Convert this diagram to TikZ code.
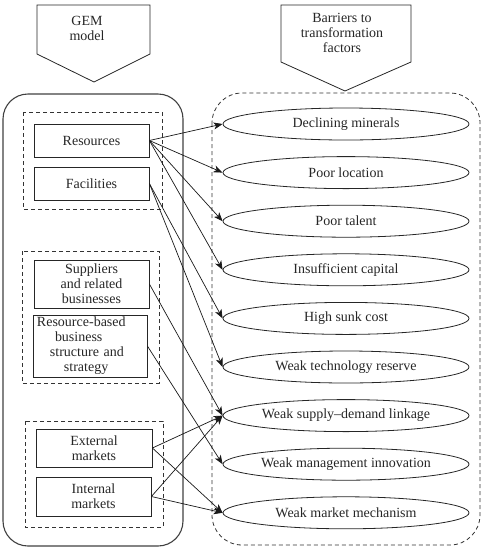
\documentclass[tikz,border=0pt]{standalone}
\usepackage{fontspec}
\setmainfont{Liberation Serif}
\usetikzlibrary{arrows.meta,shapes.geometric}
\begin{document}
\begin{tikzpicture}[x=1pt,y=-1pt,
  lbl/.style={font=\fontsize{14}{15}\selectfont, text=black!85, align=center, inner sep=0pt},
  box/.style={draw=black!85, line width=0.8pt, minimum width=115pt, inner sep=0pt,
    font=\fontsize{14}{15}\selectfont, text=black!85, align=center},
  grp/.style={draw=black!80, line width=0.8pt, dash pattern=on 4pt off 3pt},
  head/.style={draw=black!85, line width=0.8pt},
  barrier/.style={ellipse, draw=black!85, line width=0.8pt, minimum width=246pt,
    minimum height=32pt, inner sep=0pt, font=\fontsize{14}{15}\selectfont, text=black!85},
  link/.style={-{Stealth[length=9pt,width=7pt,inset=2.5pt]}, line width=0.7pt, draw=black!90}
]
\useasboundingbox (0,0) rectangle (484,550);

% header pentagons
\draw[head] (37,5) -- (150,5) -- (150,54) -- (94,82) -- (37,54) -- cycle;
\node[lbl] (gem) at (87,28) {GEM\\model};
\draw[head] (281,5) -- (411,5) -- (411,62) -- (345,91) -- (281,62) -- cycle;
\node[lbl] (bar) at (342,33) {Barriers to\\transformation\\factors};

% containers
\draw[draw=black!75, line width=1.1pt, rounded corners=25pt] (3,94) rectangle (183,546);
\draw[grp, rounded corners=30pt] (212,93) rectangle (480,545);

% dashed groups
\draw[grp] (23,112) rectangle (162,209);
\draw[grp] (22,251) rectangle (159,383);
\draw[grp] (25,421) rectangle (163,527);

% GEM boxes
\node[box, minimum height=33pt] (res) at (91.5,140.5) {Resources};
\node[box, minimum height=33pt] (fac) at (91.5,183.5) {Facilities};
\node[box, minimum height=48pt] (sup) at (91.5,284) {Suppliers\\and related\\businesses};
\node[box, minimum width=114pt, minimum height=62pt, align=left, text width=106pt, inner xsep=4pt] (rbb) at (90,346)
  {Resource-based\\\hspace*{18pt}business\\\hspace*{13pt}structure and\\\hspace*{27pt}strategy};
\node[box, minimum width=116pt, minimum height=38pt] (ext) at (94,448) {External\\markets};
\node[box, minimum height=39pt] (int) at (93.5,496.5) {Internal\\markets};

% barriers
\node[barrier] (b1) at (346,124) {Declining minerals};
\node[barrier] (b2) at (346,172.6) {Poor location};
\node[barrier] (b3) at (346,221.2) {Poor talent};
\node[barrier] (b4) at (346,269.8) {Insufficient capital};
\node[barrier] (b5) at (346,318.4) {High sunk cost};
\node[barrier] (b6) at (346,367) {Weak technology reserve};
\node[barrier] (b7) at (346,415.6) {Weak supply--demand linkage};
\node[barrier] (b8) at (346,464.2) {Weak management innovation};
\node[barrier] (b9) at (346,512.8) {Weak market mechanism};

% links
\draw[link] (res.east) -- (b1.west);
\draw[link] (res.east) -- (b2.west);
\draw[link] (res.east) -- (b3.west);
\draw[link] (res.east) -- (b4.west);
\draw[link] (fac.east) -- (b5.west);
\draw[link] (fac.east) -- (b6.west);
\draw[link] (sup.east) -- (b7.west);
\draw[link] (rbb.east) -- (b8.west);
\draw[link] (ext.east) -- (b7.west);
\draw[link] (ext.east) -- (b9.west);
\draw[link] (int.east) -- (b7.west);
\draw[link] (int.east) -- (b9.west);
\end{tikzpicture}
\end{document}
